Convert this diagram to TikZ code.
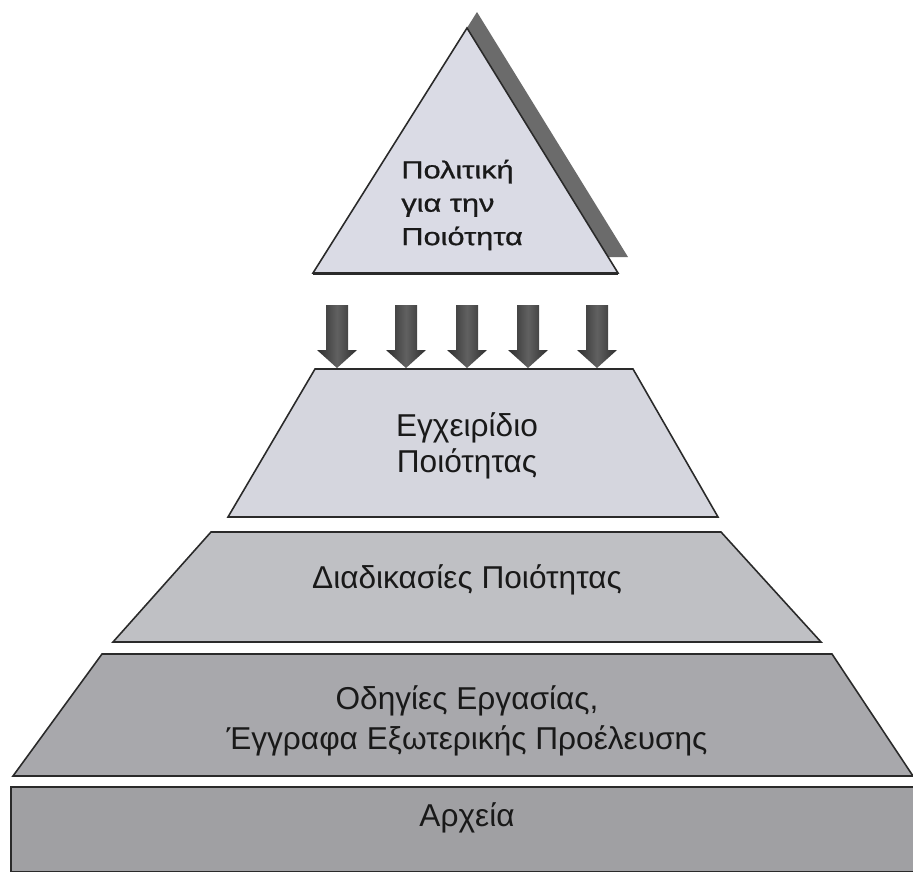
\documentclass[tikz,border=0pt]{standalone}
\usepackage{fontspec}
\setmainfont{Liberation Sans}
\newfontfamily\widefont[FakeStretch=1.25,FakeBold=0.8]{Liberation Sans}
\usepackage{tikz}
\usetikzlibrary{calc,positioning,shapes}
\usepackage[dvipsnames]{xcolor}

\definecolor{tipfill}{HTML}{DADBE5}
\definecolor{levelA}{HTML}{D5D6DE}
\definecolor{levelB}{HTML}{BFC0C4}
\definecolor{levelC}{HTML}{A8A8AC}
\definecolor{levelD}{HTML}{A0A0A3}
\definecolor{edge}{HTML}{2A2A2A}

\begin{document}
\begin{tikzpicture}[
    x=0.02cm, y=-0.02cm,
    level/.style={draw=edge, line width=0.9pt, line join=miter},
    shadow/.style={fill=black!58},
    push/.style={draw=none, left color=black!82, right color=black!82,
                 middle color=black!62},
    label/.style={inner sep=0, text=black!90, align=center,
                  font=\fontsize{18}{20.5}\selectfont},
    scale=1
]

    \useasboundingbox (0,0) rectangle (913,872);

    % top of the pyramid with its shadow
    \fill[shadow] (477,12) -- (628,257) -- (323,257) -- cycle;
    \draw[level, fill=tipfill] (467,28) -- (618,273) -- (313,273) -- cycle;
    \draw[edge, line width=1.4pt] (313,274) -- (618,274);

    \node[inner sep=0, anchor=west, align=left, text=black!90,
          font=\widefont\fontsize{14}{19}\selectfont] (policy) at (401,205)
          {Πολιτική\\για την\\Ποιότητα};

    % five arrows down onto the manual
    \foreach \ax in {337,406,467,528,597}{
        \shade[push] (\ax-11,305) -- (\ax+11,305) -- (\ax+11,350)
            -- (\ax+20,350) -- (\ax,368) -- (\ax-20,350)
            -- (\ax-11,350) -- cycle;
    }

    % levels of the pyramid
    \draw[level, fill=levelA] (315,369) -- (633,369) -- (718,517)
        -- (228,517) -- cycle;
    \draw[level, fill=levelB] (211,532) -- (721,532) -- (821,642)
        -- (113,642) -- cycle;
    \draw[level, fill=levelC] (102,654) -- (832,654) -- (913,776)
        -- (13,776) -- cycle;
    \draw[level, fill=levelD] (913,787) -- (11,787) -- (11,872)
        -- (913,872);

    \node[label] (manual) at (467,446) {Εγχειρίδιο\\Ποιότητας};
    \node[label] (procedures) at (467,580) {Διαδικασίες Ποιότητας};
    \node[label, font=\fontsize{18}{22.7}\selectfont] (instructions)
        at (467,721) {Οδηγίες Εργασίας,\\Έγγραφα Εξωτερικής Προέλευσης};
    \node[label] (records) at (467,818) {Αρχεία};

\end{tikzpicture}
\end{document}
